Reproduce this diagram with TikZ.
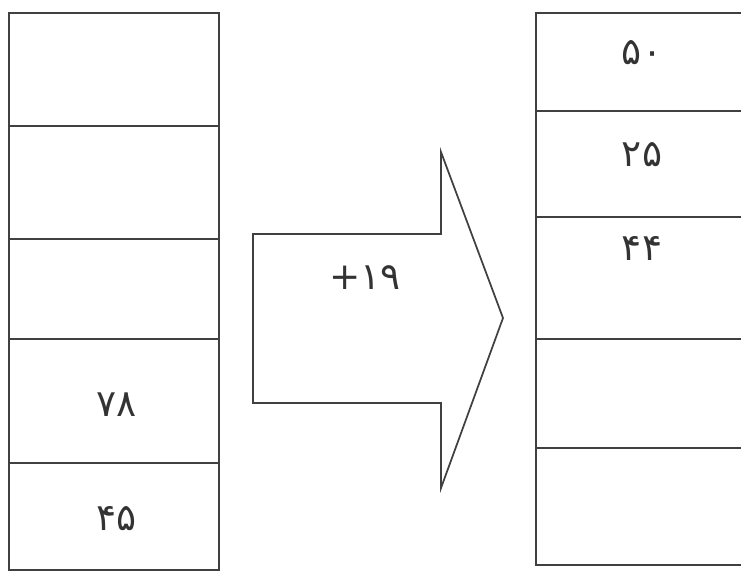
\documentclass[tikz,border=0pt]{standalone}
\usepackage{fontspec}
\newfontfamily\farsi[Script=Arabic]{DejaVu Sans}

\begin{document}
\begin{tikzpicture}[x=0.75pt,y=-0.75pt,line width=1.1pt]
  \tikzset{frame/.style={draw=black!75,line width=1.6pt},
           num/.style={font=\farsi\fontsize{28}{28}\selectfont,text=black!80,inner sep=0pt}}
  \useasboundingbox (0,0) rectangle (741,572);
  % before
  \draw[frame] (9,13) rectangle (219,570);
  \foreach \y in {126,239,339,463}
    \draw[frame] (9,\y) -- (219,\y);
  \node[num] (v78) at (117,405) {۷۸};
  \node[num] (v45) at (117,519) {۴۵};
  % the arrow
  \draw[frame,line width=1.3pt] (253,234) -- (441,234) -- (441,152) -- (503,318)
    -- (441,488) -- (441,403) -- (253,403) -- cycle;
  \node[num] (add) at (365,278) {\mbox{+}\mbox{۱۹}};
  % after
  \draw[frame] (741,13) -- (536,13) -- (536,565) -- (741,565);
  \foreach \y in {111,217,339,448}
    \draw[frame] (536,\y) -- (741,\y);
  \node[num] (v50) at (642,53) {۵۰};
  \node[num] (v25) at (642,155) {۲۵};
  \node[num] (v44) at (642,248) {۴۴};
\end{tikzpicture}
\end{document}
